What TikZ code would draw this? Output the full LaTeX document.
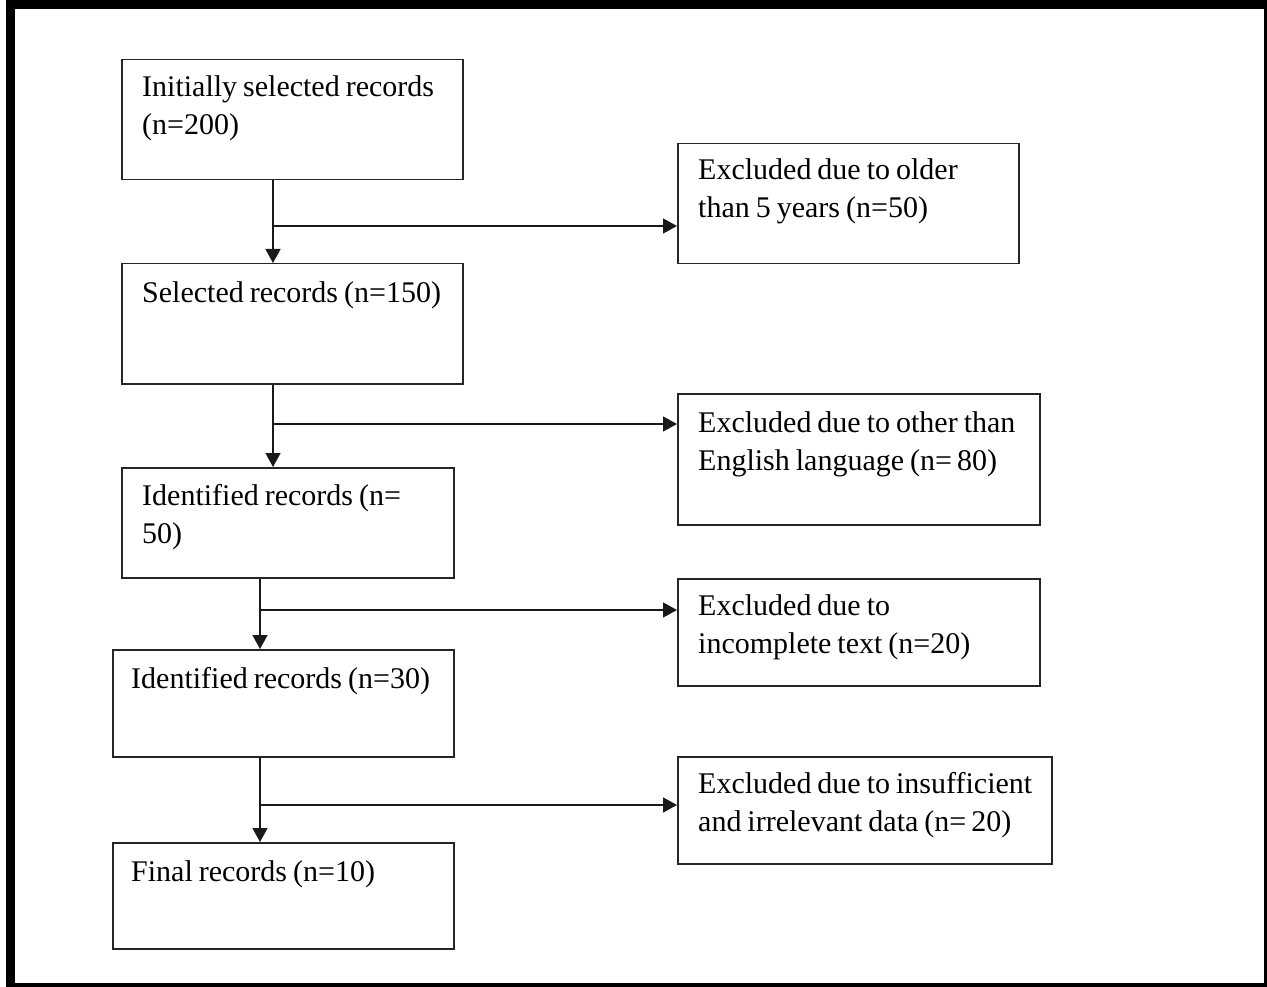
\documentclass[tikz,border=0pt]{standalone}
\usepackage{fontspec}
\setmainfont{Liberation Serif}
\usetikzlibrary{arrows.meta,calc}
\newcommand\mytightsp{\spaceskip=0.2em plus 0.05em minus 0.05em\relax}
\begin{document}
\begin{tikzpicture}[x=1pt,y=-1pt,
  box/.style={draw=black!85,line width=1.5pt,rectangle,anchor=north west,inner sep=0pt},
  txt/.style={anchor=base west,align=left,inner sep=0pt,font=\fontsize{30}{38}\selectfont\mytightsp},
  arr/.style={draw=black!90,line width=1.6pt,-{Triangle[length=14pt,width=15pt]}}]
\useasboundingbox (0,0) rectangle (1267,987);
\clip (0,0) rectangle (1267,987);
\fill[white] (0,0) rectangle (1267,987);
\draw[line width=9pt] (10,4.5) rectangle (1268,987.5);
% left column
\node[box,minimum width=341pt,minimum height=120pt] (b1) at (121,59) {};
\node[box,minimum width=341pt,minimum height=120pt] (b2) at (121,263) {};
\node[box,minimum width=332pt,minimum height=110pt] (b3) at (121,467) {};
\node[box,minimum width=341pt,minimum height=107pt] (b4) at (112,649) {};
\node[box,minimum width=341pt,minimum height=106pt] (b5) at (112,842) {};
% right column
\node[box,minimum width=341pt,minimum height=120pt] (e1) at (677,143) {};
\node[box,minimum width=362pt,minimum height=131pt] (e2) at (677,393) {};
\node[box,minimum width=362pt,minimum height=107pt] (e3) at (677,578) {};
\node[box,minimum width=374pt,minimum height=107pt] (e4) at (677,756) {};
% texts (base anchor = baseline of last line)
\node[txt] (t1) at ($(b1.north west)+(21,76)$) {Initially selected records\\(n=200)};
\node[txt] (t2) at ($(b2.north west)+(21,39)$) {Selected records (n=150)};
\node[txt] (t3) at ($(b3.north west)+(21,76)$) {Identified records (n=\\50)};
\node[txt] (t4) at ($(b4.north west)+(19,39)$) {Identified records (n=30)};
\node[txt] (t5) at ($(b5.north west)+(19,39)$) {Final records (n=10)};
\node[txt] (s1) at ($(e1.north west)+(21,75)$) {Excluded due to older\\than 5 years (n=50)};
\node[txt] (s2) at ($(e2.north west)+(21,77)$) {Excluded due to other than\\English language (n=\,80)};
\node[txt] (s3) at ($(e3.north west)+(21,75)$) {Excluded due to\\incomplete text (n=20)};
\node[txt] (s4) at ($(e4.north west)+(21,75)$) {Excluded due to insufficient\\and irrelevant data (n=\,20)};
% junctions
\coordinate (j1) at (273,226);
\coordinate (j2) at (273,424);
\coordinate (j3) at (260,610);
\coordinate (j4) at (260,805);
\draw[arr] (j1 |- b1.south) -- (j1 |- b2.north);
\draw[arr] (j1) -- (j1 -| e1.west);
\draw[arr] (j2 |- b2.south) -- (j2 |- b3.north);
\draw[arr] (j2) -- (j2 -| e2.west);
\draw[arr] (j3 |- b3.south) -- (j3 |- b4.north);
\draw[arr] (j3) -- (j3 -| e3.west);
\draw[arr] (j4 |- b4.south) -- (j4 |- b5.north);
\draw[arr] (j4) -- (j4 -| e4.west);
\end{tikzpicture}
\end{document}
